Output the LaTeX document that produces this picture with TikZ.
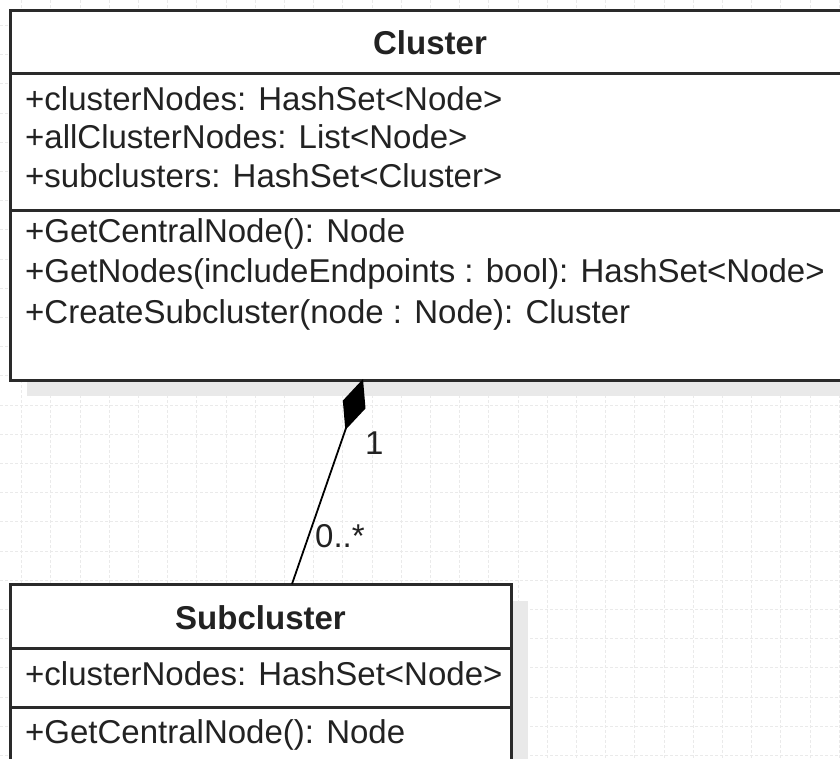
\documentclass[tikz,border=0pt]{standalone}
\usepackage{fontspec}
\setmainfont{Liberation Sans}
\usetikzlibrary{arrows.meta}
\definecolor{gridc}{HTML}{EAEAEA}
\definecolor{shadowc}{HTML}{E9E9E9}
\definecolor{linec}{HTML}{2A2A2A}
\definecolor{textc}{HTML}{222222}
\begin{document}
\begin{tikzpicture}[x=1pt,y=-1pt,
  gridline/.style={draw=gridc, line width=1pt, dash pattern=on 3pt off 2pt},
  box/.style={draw=linec, line width=3pt, fill=white, inner sep=0pt, outer sep=0pt, anchor=north west},
  sep/.style={draw=linec, line width=3pt},
  txt/.style={inner sep=0pt, anchor=base west, text=textc, font=\fontsize{33}{38}\selectfont},
  titletxt/.style={inner sep=0pt, anchor=base, text=textc, font=\fontsize{33}{38}\selectfont\bfseries},
  mult/.style={inner sep=0pt, anchor=base west, text=textc, font=\fontsize{33}{38}\selectfont},
  conn/.style={draw=black, line width=1.8pt}]
\useasboundingbox (0,0) rectangle (840,758);
\clip (0,0) rectangle (840,758);
\fill[white] (0,0) rectangle (840,758);
% grid
\foreach \i in {0,...,28} \draw[gridline] ({21.7+29.2*\i},0) -- ({21.7+29.2*\i},758);
\foreach \j in {0,...,25} \draw[gridline] (0,{25.4+29.2*\j}) -- (840,{25.4+29.2*\j});
% shadows
\fill[shadowc] (27,27) rectangle (870,396);
\fill[shadowc] (27,601) rectangle (528,800);
% Cluster class
\node[box, minimum width=840pt, minimum height=370pt] (cluster) at (10,10) {};
\draw[sep] (10,73) -- (850,73);
\draw[sep] (10,210) -- (850,210);
\node[titletxt] (ctitle) at (430,54) {Cluster};
\node[txt] (ca1) at (25,110) {+clusterNodes: HashSet<Node>};
\node[txt] (ca2) at (25,148.5) {+allClusterNodes: List<Node>};
\node[txt] (ca3) at (25,187) {+subclusters: HashSet<Cluster>};
\node[txt] (cm1) at (25,242) {+GetCentralNode(): Node};
\node[txt] (cm2) at (25,282.5) {+GetNodes(includeEndpoints : bool): HashSet<Node>};
\node[txt] (cm3) at (25,323) {+CreateSubcluster(node : Node): Cluster};
% Subcluster class
\node[box, minimum width=501pt, minimum height=250pt] (sub) at (10,584) {};
\draw[sep] (10,648) -- (511,648);
\draw[sep] (10,707) -- (511,707);
\node[titletxt] (stitle) at (260.5,629) {Subcluster};
\node[txt] (sa1) at (25,685) {+clusterNodes: HashSet<Node>};
\node[txt] (sm1) at (25,743) {+GetCentralNode(): Node};
% composition connector
\coordinate (ctop) at ([xshift=353pt,yshift=1pt]cluster.south west);
\coordinate (cbot) at ([xshift=282pt]sub.north west);
\draw[conn, -{Diamond[length=54pt,width=24pt]}] (cbot) -- (ctop);
\node[mult] (m1) at (365,454) {1};
\node[mult] (m2) at (315,547) {0..*};
\end{tikzpicture}
\end{document}
